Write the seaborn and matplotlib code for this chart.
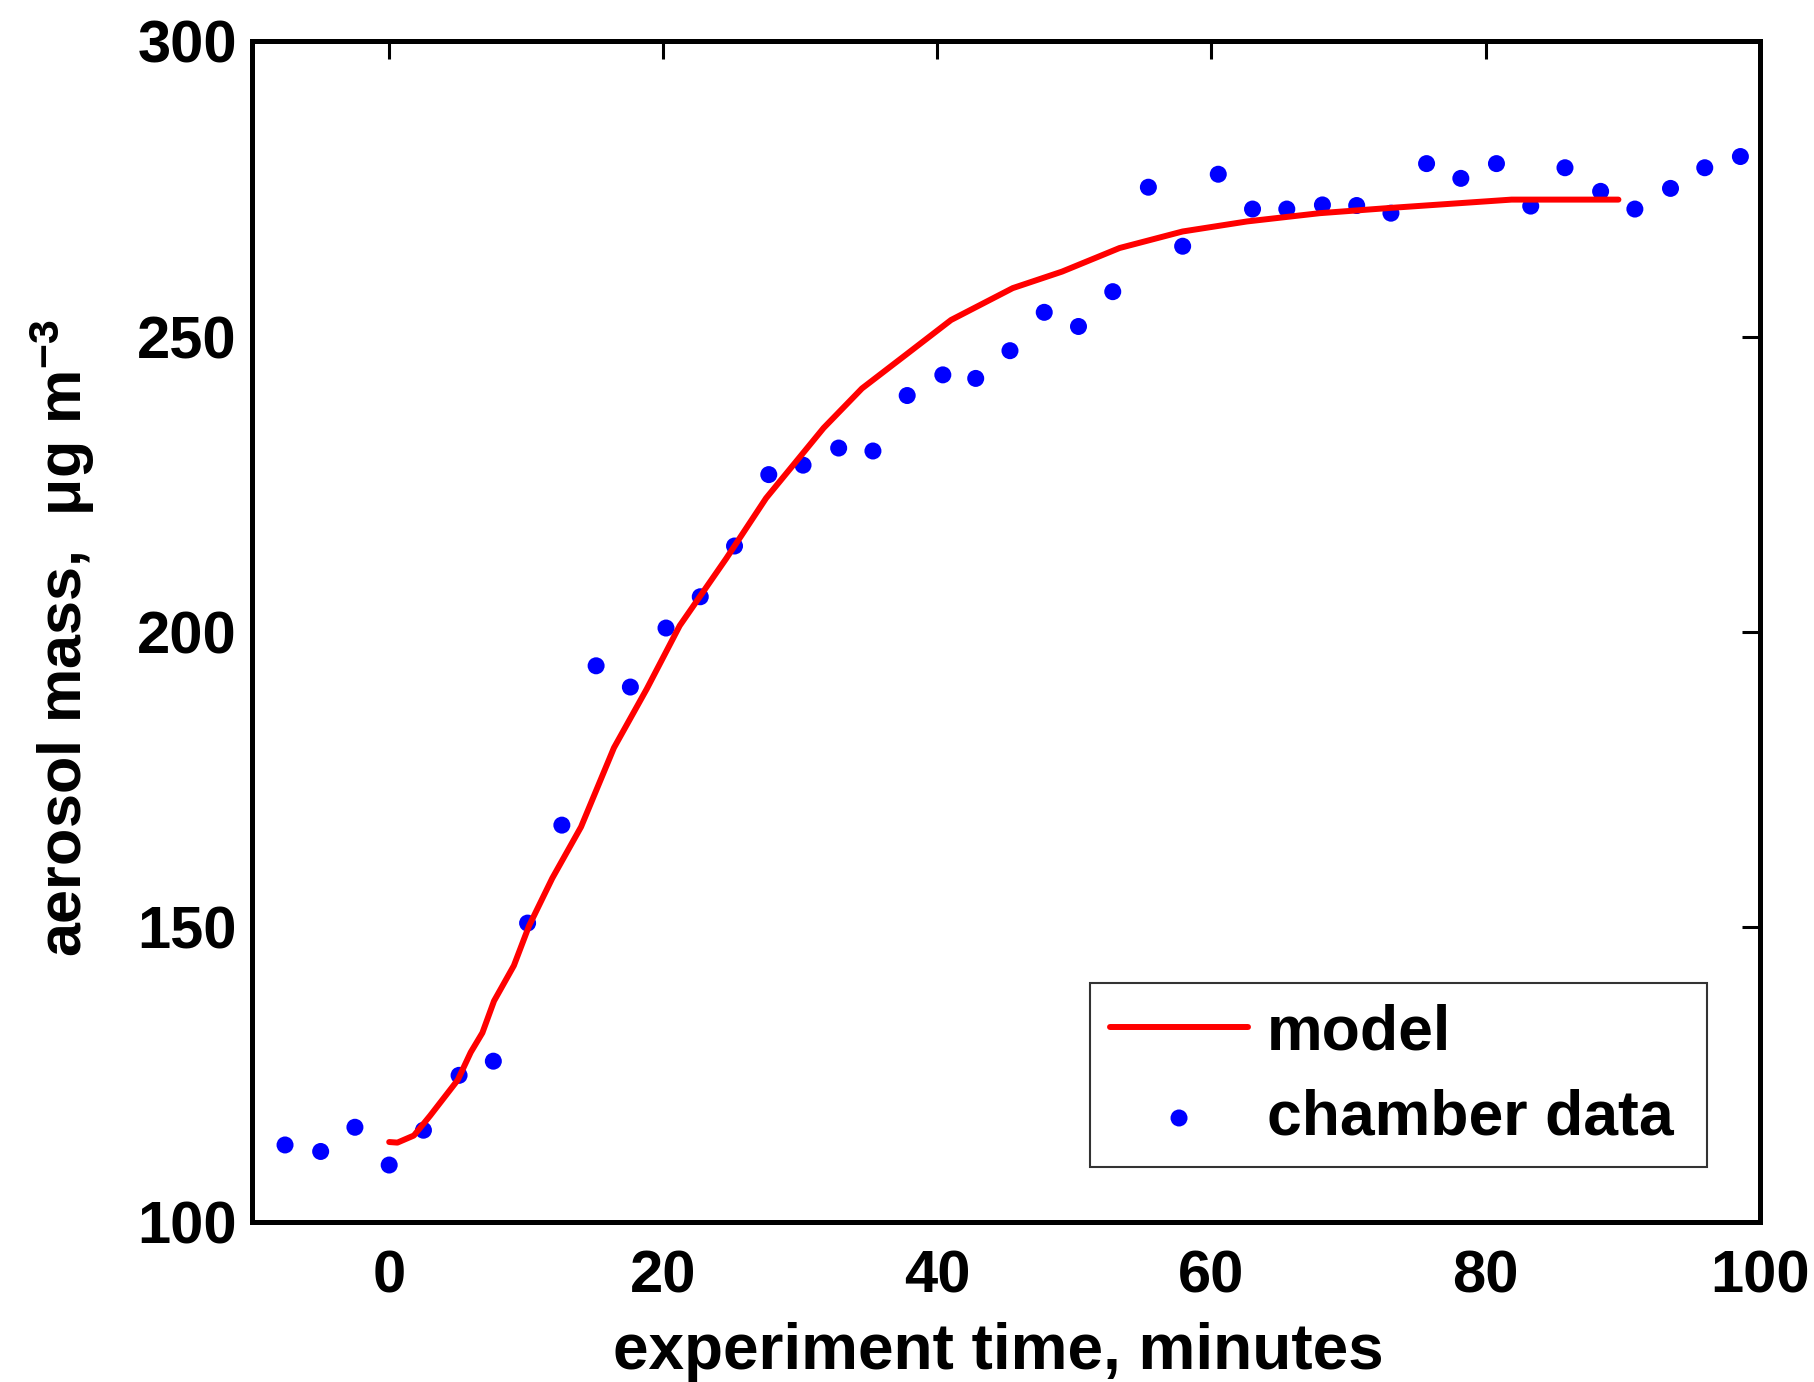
import matplotlib
matplotlib.use("Agg")
import matplotlib.pyplot as plt
import seaborn as sns
import pandas as pd

# Chamber measurements: experiment time (minutes) and aerosol mass (ug m^-3)
time_obs = [-7.6, -5.0, -2.5, 0.0, 2.5, 5.1, 7.6, 10.1, 12.6, 15.1, 17.6, 20.2,
            22.7, 25.2, 27.7, 30.2, 32.8, 35.3, 37.8, 40.4, 42.8, 45.3, 47.8,
            50.3, 52.8, 55.4, 57.9, 60.5, 63.0, 65.5, 68.1, 70.6, 73.1, 75.7,
            78.2, 80.8, 83.3, 85.8, 88.4, 90.9, 93.5, 96.0, 98.6]
mass_obs = [113.0, 111.9, 116.0, 109.6, 115.5, 124.8, 127.2, 150.6, 167.2,
            194.2, 190.6, 200.6, 205.9, 214.5, 226.6, 228.2, 231.1, 230.6,
            240.0, 243.5, 242.9, 247.6, 254.1, 251.7, 257.6, 275.3, 265.3,
            277.5, 271.6, 271.6, 272.3, 272.2, 270.9, 279.3, 276.8, 279.3,
            272.1, 278.6, 274.6, 271.6, 275.1, 278.6, 280.5]

# Model curve
time_model = [0.0, 0.6, 1.8, 3.0, 5.0, 5.95, 6.8, 7.65, 9.1, 10.2, 11.9, 14.0,
              16.4, 18.8, 21.2, 24.6, 27.5, 31.7, 34.5, 37.7, 41.0, 45.5, 49.1,
              53.3, 57.9, 62.6, 67.9, 73.1, 81.9, 89.7]
mass_model = [113.5, 113.4, 114.6, 118.0, 124.0, 128.7, 132.0, 137.4, 143.4,
              150.1, 158.2, 166.9, 180.3, 190.3, 201.0, 212.4, 222.6, 234.5,
              241.2, 246.9, 252.8, 258.2, 261.0, 265.0, 267.8, 269.5, 270.9,
              271.8, 273.2, 273.2]

x_ticks = [0, 20, 40, 60, 80, 100]
y_ticks = [100, 150, 200, 250, 300]

sns.set_theme(style="white")
plt.rcParams["font.family"] = ["Liberation Sans", "DejaVu Sans"]
plt.rcParams["font.weight"] = "bold"
plt.rcParams["text.color"] = "black"
plt.rcParams["mathtext.fontset"] = "custom"
plt.rcParams["mathtext.rm"] = "Liberation Sans:bold"
plt.rcParams["mathtext.it"] = "Liberation Sans:bold"
plt.rcParams["mathtext.bf"] = "Liberation Sans:bold"
plt.rcParams["mathtext.default"] = "rm"

fig = plt.figure(figsize=(18.14, 13.82), dpi=100)
ax = fig.add_axes([0.139, 0.116, 0.831, 0.854])

model_df = pd.DataFrame({"t": time_model, "m": mass_model})
obs_df = pd.DataFrame({"t": time_obs, "m": mass_obs})

sns.lineplot(data=model_df, x="t", y="m", ax=ax, color="#ff0000",
             linewidth=4.3, label="model", sort=False)
sns.scatterplot(data=obs_df, x="t", y="m", ax=ax, color="#0000ff",
                s=150, edgecolor="none", label="chamber data")

ax.set_xlim(-10, 100)
ax.set_ylim(100, 300)
ax.set_xticks(x_ticks)
ax.set_yticks(y_ticks)

for side in ["left", "right", "top", "bottom"]:
    ax.spines[side].set_visible(True)
    ax.spines[side].set_color("black")
    ax.spines[side].set_linewidth(3.6)

ax.tick_params(axis="both", direction="in", top=True, right=True,
               length=13, width=2.2, color="black", labelsize=43,
               labelcolor="black")
ax.tick_params(axis="x", pad=20)
ax.tick_params(axis="y", pad=11)
for lab in ax.get_xticklabels() + ax.get_yticklabels():
    lab.set_fontweight("bold")

ax.set_xlabel("experiment time, minutes", fontsize=46, fontweight="bold",
              color="black")
ax.set_ylabel("aerosol mass,  \u03bcg m$^{-3}$", fontsize=44,
              fontweight="bold", color="black")
ax.xaxis.set_label_coords(0.495, -0.085)
ax.yaxis.set_label_coords(-0.103, 0.494)

leg = ax.legend(loc="lower left", bbox_to_anchor=(0.556, 0.046, 0.409, 0.151),
                mode="expand", fontsize=45, frameon=True, fancybox=False,
                handlelength=2.2, handletextpad=0.3, borderpad=0.32,
                labelspacing=0.42, borderaxespad=0)
leg.get_frame().set_edgecolor("black")
leg.get_frame().set_linewidth(1.5)
for t in leg.get_texts():
    t.set_fontweight("bold")
    t.set_color("black")

fig.savefig("out.png", dpi=100, facecolor="white")
